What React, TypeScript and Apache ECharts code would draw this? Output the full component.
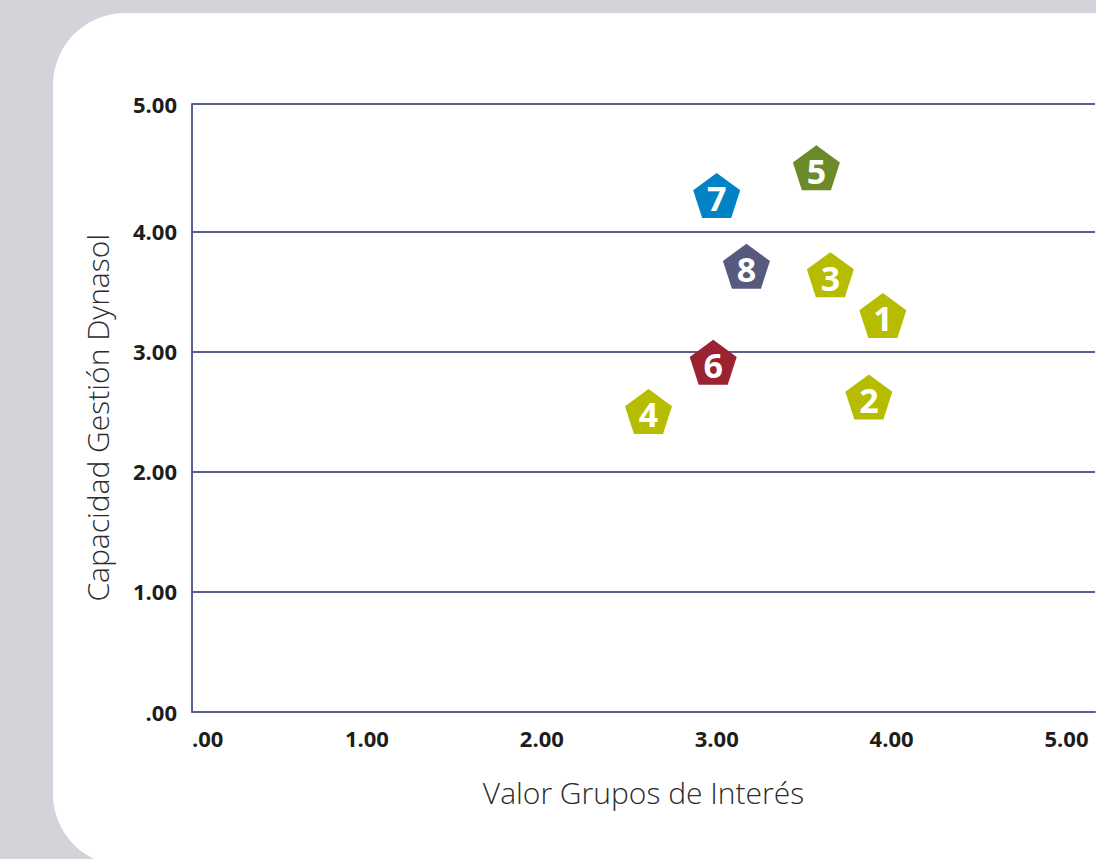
import React, { useEffect, useRef } from "react";
import * as echarts from "echarts";

// Data
const pointLabels = ["1", "2", "3", "4", "5", "6", "7", "8"];
const valorGrupos = [3.95, 3.87, 3.65, 2.61, 3.57, 2.98, 3.0, 3.17];
const capacidadGestion = [3.3, 2.62, 3.64, 2.5, 4.53, 2.91, 4.3, 3.71];
const pointColors = ["#b6bd00", "#b6bd00", "#b6bd00", "#b6bd00", "#6b8b2b", "#9b2230", "#0083c4", "#575a7e"];

const xTitle = "Valor Grupos de Interés";
const yTitle = "Capacidad Gestión Dynasol";

const X_MAX = 5.163;
const Y_MAX = 5.062;

const PENTAGON = "path://M50,0 L97.55,34.55 L79.39,90.45 L20.61,90.45 L2.45,34.55 Z";

const GRID_COLOR = "#5c6290";

function fmtX(v: number): string {
  if (v === 0) return ".00";
  if (v > 5.001) return "";
  return v.toFixed(2);
}

function fmtY(v: number): string {
  if (v === 0) return ".00";
  if (v > 5.001) return "5.00";
  if (v === 5) return "";
  return v.toFixed(2);
}

export default function App() {
  const ref = useRef<HTMLDivElement>(null);

  useEffect(() => {
    if (!ref.current) return;
    const chart = echarts.init(ref.current, undefined, { renderer: "svg" });
    const data = valorGrupos.map((x, i) => ({
      name: pointLabels[i],
      value: [x, capacidadGestion[i]],
      itemStyle: { color: pointColors[i], opacity: 1 },
    }));
    chart.setOption({
      animation: false,
      grid: { left: 192, top: 104, right: 1, bottom: 147.5, containLabel: false },
      xAxis: {
        type: "value",
        min: 0,
        max: X_MAX,
        interval: 1,
        name: xTitle,
        nameLocation: "middle",
        nameGap: 66,
        nameTextStyle: { fontFamily: "Open Sans", fontWeight: 300, fontSize: 30, color: "#2b2b2b" },
        axisLine: { show: true, lineStyle: { color: GRID_COLOR, width: 2 } },
        axisTick: { show: false },
        splitLine: { show: false },
        axisLabel: {
          show: true,
          margin: 15,
          fontFamily: "Open Sans",
          fontWeight: "bold",
          fontSize: 22,
          color: "#1d1d1b",
          showMaxLabel: false,
          alignMinLabel: "left",
          formatter: (v: number) => fmtX(v),
        },
      },
      yAxis: {
        type: "value",
        min: 0,
        max: Y_MAX,
        interval: 1,
        name: yTitle,
        nameLocation: "middle",
        nameGap: 80,
        nameRotate: 90,
        nameTextStyle: { fontFamily: "Open Sans", fontWeight: 300, fontSize: 30, color: "#2b2b2b", padding: [0, 20, 0, 0] },
        axisLine: { show: true, lineStyle: { color: GRID_COLOR, width: 2 } },
        axisTick: { show: false },
        splitLine: {
          show: true,
          lineStyle: {
            color: [GRID_COLOR, GRID_COLOR, GRID_COLOR, GRID_COLOR, GRID_COLOR, "rgba(0,0,0,0)", GRID_COLOR],
            width: 2,
          },
        },
        axisLabel: {
          show: true,
          margin: 15,
          fontFamily: "Open Sans",
          fontWeight: "bold",
          fontSize: 22,
          color: "#1d1d1b",
          showMaxLabel: true,
          formatter: (v: number) => fmtY(v),
        },
      },
      series: [
        {
          type: "scatter",
          symbol: PENTAGON,
          symbolSize: [47, 45],
          itemStyle: { opacity: 1 },
          data,
          label: {
            show: true,
            position: "inside",
            formatter: "{b}",
            offset: [0, 3],
            fontFamily: "Open Sans",
            fontWeight: "bold",
            fontSize: 34,
            color: "#ffffff",
          },
        },
      ],
    });
    return () => chart.dispose();
  }, []);

  return (
    <div style={{ position: "fixed", left: 0, top: 0, width: 1096, height: 859, background: "#d3d4d9", overflow: "hidden" }}>
      <div
        style={{
          position: "absolute",
          left: 53,
          top: 13,
          width: 1200,
          height: 853,
          background: "#ffffff",
          borderRadius: 72,
        }}
      />
      <div ref={ref} style={{ position: "absolute", left: 0, top: 0, width: 1096, height: 859 }} />
    </div>
  );
}
